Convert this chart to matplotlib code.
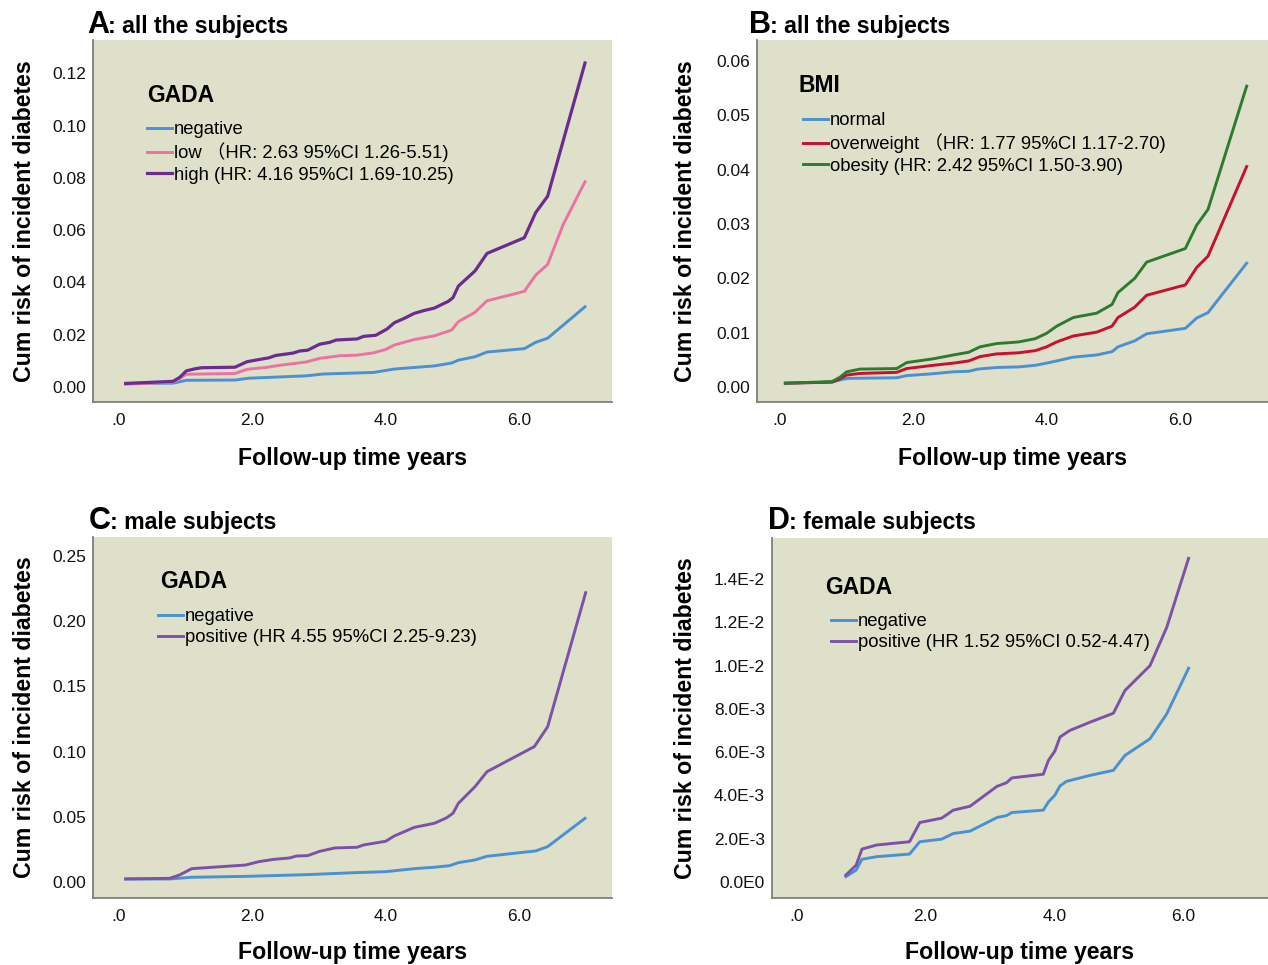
import matplotlib
matplotlib.use("Agg")
import matplotlib.pyplot as plt

plt.rcParams['font.family'] = ['Liberation Sans', 'Noto Sans CJK SC', 'DejaVu Sans']

# ---- data (follow-up years, cumulative risk) ----
# A: GADA, all subjects
a_neg_t = [0.10, 0.81, 1.01, 1.74, 1.95, 2.81, 3.06, 3.82, 4.13, 4.73, 4.99, 5.09, 5.34, 5.52, 6.08, 6.25, 6.43, 6.99]
a_neg_v = [0.0014, 0.0015, 0.0026, 0.0027, 0.0034, 0.0043, 0.0050, 0.0056, 0.0069, 0.0081, 0.0092, 0.0103, 0.0116, 0.0134, 0.0147, 0.0171, 0.0187, 0.0307]
a_low_t = [0.10, 0.81, 0.88, 1.01, 1.74, 1.92, 2.20, 2.40, 2.81, 3.01, 3.32, 3.57, 3.82, 4.00, 4.13, 4.43, 4.73, 4.99, 5.09, 5.34,
           5.52, 6.08, 6.25, 6.43, 6.66, 6.99]
a_low_v = [0.0011, 0.0019, 0.0029, 0.0049, 0.0052, 0.0068, 0.0075, 0.0083, 0.0096, 0.0110, 0.0120, 0.0122, 0.0131, 0.0144, 0.0161,
           0.0182, 0.0196, 0.0218, 0.0250, 0.0286, 0.0330, 0.0366, 0.0428, 0.0469, 0.0620, 0.0785]
a_high_t = [0.10, 0.81, 0.91, 1.01, 1.14, 1.24, 1.74, 1.92, 2.05, 2.25, 2.35, 2.61, 2.71, 2.83, 3.01, 3.16, 3.26, 3.57, 3.67, 3.85,
            4.02, 4.13, 4.28, 4.43, 4.58, 4.73, 4.94, 5.01, 5.09, 5.34, 5.52, 6.08, 6.25, 6.43, 6.99]
a_high_v = [0.0014, 0.0022, 0.0037, 0.0062, 0.0070, 0.0074, 0.0076, 0.0097, 0.0103, 0.0112, 0.0121, 0.0130, 0.0138, 0.0141, 0.0164,
            0.0171, 0.0180, 0.0184, 0.0194, 0.0198, 0.0222, 0.0246, 0.0263, 0.0282, 0.0293, 0.0302, 0.0328, 0.0342, 0.0386,
            0.0444, 0.0511, 0.0571, 0.0667, 0.0730, 0.1239]

# B: BMI, all subjects
b_norm_t = [0.08, 0.78, 0.93, 1.03, 1.75, 1.90, 2.25, 2.60, 2.83, 2.97, 3.25, 3.58, 3.83, 4.00, 4.15, 4.40, 4.75, 4.98, 5.07, 5.32,
            5.50, 6.08, 6.25, 6.42, 7.00]
b_norm_v = [0.0007, 0.0009, 0.0014, 0.0016, 0.0017, 0.0021, 0.0024, 0.0028, 0.0029, 0.0033, 0.0036, 0.0037, 0.0040, 0.0044, 0.0048,
            0.0055, 0.0059, 0.0065, 0.0074, 0.0085, 0.0098, 0.0108, 0.0127, 0.0137, 0.0228]
b_over_t = [0.08, 0.78, 0.88, 1.00, 1.20, 1.75, 1.90, 2.30, 2.60, 2.83, 3.00, 3.25, 3.58, 3.83, 4.00, 4.15, 4.40, 4.75, 4.98, 5.07,
            5.32, 5.50, 6.08, 6.25, 6.42, 7.00]
b_over_v = [0.0007, 0.0009, 0.0014, 0.0022, 0.0025, 0.0027, 0.0034, 0.0040, 0.0044, 0.0048, 0.0056, 0.0061, 0.0063, 0.0067, 0.0074,
            0.0083, 0.0094, 0.0101, 0.0112, 0.0128, 0.0147, 0.0169, 0.0188, 0.0220, 0.0241, 0.0406]
b_obes_t = [0.08, 0.78, 0.90, 1.00, 1.20, 1.75, 1.90, 2.30, 2.60, 2.83, 3.00, 3.25, 3.58, 3.83, 4.00, 4.15, 4.40, 4.75, 4.98, 5.07,
            5.32, 5.50, 6.08, 6.25, 6.42, 7.00]
b_obes_v = [0.0007, 0.0010, 0.0018, 0.0028, 0.0033, 0.0034, 0.0045, 0.0052, 0.0059, 0.0064, 0.0074, 0.0080, 0.0083, 0.0089, 0.0099,
            0.0112, 0.0128, 0.0136, 0.0152, 0.0174, 0.0200, 0.0230, 0.0255, 0.0298, 0.0327, 0.0554]

# C: GADA, male subjects
c_neg_t = [0.10, 0.76, 1.09, 1.90, 2.81, 3.57, 4.00, 4.43, 4.73, 4.96, 5.09, 5.34, 5.52, 6.25, 6.43, 6.99]
c_neg_v = [0.0023, 0.0023, 0.0036, 0.0043, 0.0056, 0.0072, 0.0079, 0.0102, 0.0113, 0.0125, 0.0148, 0.0169, 0.0197, 0.0238, 0.0271, 0.0488]
c_pos_t = [0.10, 0.76, 0.91, 1.09, 1.90, 2.10, 2.33, 2.56, 2.66, 2.83, 3.01, 3.24, 3.57, 3.67, 4.00, 4.13, 4.43, 4.73, 4.91, 5.01,
           5.09, 5.34, 5.52, 6.23, 6.43, 7.00]
c_pos_v = [0.0023, 0.0028, 0.0054, 0.0102, 0.0130, 0.0156, 0.0174, 0.0184, 0.0199, 0.0202, 0.0235, 0.0261, 0.0266, 0.0284, 0.0312,
           0.0353, 0.0419, 0.0450, 0.0491, 0.0527, 0.0603, 0.0731, 0.0846, 0.1038, 0.1191, 0.2219]

# D: GADA, female subjects
d_neg_t = [0.76, 0.92, 1.01, 1.24, 1.75, 1.91, 2.25, 2.43, 2.69, 3.11, 3.26, 3.34, 3.83, 3.91, 4.01, 4.09, 4.19, 4.56, 4.92, 5.10,
           5.49, 5.75, 6.09]
d_neg_v = [0.00025, 0.00055, 0.00105, 0.00117, 0.00129, 0.00186, 0.00198, 0.00224, 0.00235, 0.00298, 0.00307, 0.00321, 0.00332,
           0.00370, 0.00401, 0.00444, 0.00465, 0.00493, 0.00516, 0.00585, 0.00662, 0.00777, 0.00988]
d_pos_t = [0.76, 0.92, 1.01, 1.24, 1.75, 1.91, 2.25, 2.43, 2.69, 3.11, 3.26, 3.34, 3.83, 3.91, 4.01, 4.09, 4.24, 4.56, 4.92, 5.10,
           5.49, 5.75, 6.09]
d_pos_v = [0.00032, 0.00078, 0.00152, 0.00171, 0.00186, 0.00275, 0.00295, 0.00332, 0.00350, 0.00442, 0.00459, 0.00481, 0.00498,
           0.00562, 0.00605, 0.00670, 0.00700, 0.00739, 0.00780, 0.00885, 0.01000, 0.01177, 0.01496]

x_ticks = [0, 2, 4, 6]
x_ticklabels = ['.0', '2.0', '4.0', '6.0']
a_yticks = [0.00, 0.02, 0.04, 0.06, 0.08, 0.10, 0.12]
a_yticklabels = ['0.00', '0.02', '0.04', '0.06', '0.08', '0.10', '0.12']
b_yticks = [0.00, 0.01, 0.02, 0.03, 0.04, 0.05, 0.06]
b_yticklabels = ['0.00', '0.01', '0.02', '0.03', '0.04', '0.05', '0.06']
c_yticks = [0.00, 0.05, 0.10, 0.15, 0.20, 0.25]
c_yticklabels = ['0.00', '0.05', '0.10', '0.15', '0.20', '0.25']
d_yticks = [0.000, 0.002, 0.004, 0.006, 0.008, 0.010, 0.012, 0.014]
d_yticklabels = ['0.0E0', '2.0E-3', '4.0E-3', '6.0E-3', '8.0E-3', '1.0E-2', '1.2E-2', '1.4E-2']

BG = '#dfe0c9'
BLUE = '#4a90d2'
PINK = '#ec72a4'
DPURPLE = '#6b2c91'
PURPLE = '#7c52a8'
RED = '#c8102e'
GREEN = '#2e7b30'
SPINE = '#7f7f7f'

W, H = 1268, 965
fig = plt.figure(figsize=(W / 100, H / 100), dpi=100)
fig.patch.set_facecolor('white')


def add_panel(l, t, r, b):
    ax = fig.add_axes([l / W, 1 - b / H, (r - l) / W, (b - t) / H])
    ax._px = (l, t, r, b)
    return ax


def to_axes(ax, x, y):
    l, t, r, b = ax._px
    return (x - l) / (r - l), 1 - (y - t) / (b - t)


def style_panel(ax, xlim, ylim, yticks, yticklabels, ylab_x, xlab_y):
    ax.set_facecolor(BG)
    ax.set_xlim(*xlim)
    ax.set_ylim(*ylim)
    ax.set_xticks(x_ticks)
    ax.set_xticklabels(x_ticklabels)
    ax.set_yticks(yticks)
    ax.set_yticklabels(yticklabels)
    ax.tick_params(length=0, labelsize=12.5, colors='#111111')
    ax.tick_params(axis='x', pad=8)
    ax.tick_params(axis='y', pad=5)
    for s in ['top', 'right']:
        ax.spines[s].set_visible(False)
    for s in ['left', 'bottom']:
        ax.spines[s].set_color(SPINE)
        ax.spines[s].set_linewidth(1.3)
    ax.set_xlabel('Follow-up time years', fontsize=16.7, fontweight='bold', va='center')
    ax.xaxis.set_label_coords(*to_axes(ax, (ax._px[0] + ax._px[2]) / 2, xlab_y))
    ax.set_ylabel('Cum risk of incident diabetes', fontsize=16.7, fontweight='bold', va='center')
    ax.yaxis.set_label_coords(to_axes(ax, ylab_x, 0)[0], 0.5)


def add_legend(ax, title, title_xy, handle_xy):
    ax.text(*to_axes(ax, *title_xy), title, transform=ax.transAxes, fontsize=16.5,
            fontweight='bold', ha='left', va='center')
    ax.legend(loc='upper left', bbox_to_anchor=to_axes(ax, *handle_xy), frameon=False,
              borderpad=0, borderaxespad=0, handlelength=1.35, handletextpad=0.12,
              labelspacing=0.24, fontsize=13.3)


def panel_title(x, y, letter, rest):
    fig.text(x / W, 1 - y / H, letter, fontsize=22, fontweight='bold', va='baseline')
    fig.text((x + 21) / W, 1 - y / H, rest, fontsize=16.7, fontweight='bold', va='baseline')


# A
axA = add_panel(93, 40, 612, 402)
axA.plot(a_neg_t, a_neg_v, color=BLUE, lw=2.1, label='negative')
axA.plot(a_low_t, a_low_v, color=PINK, lw=2.1, label='low （HR: 2.63 95%CI 1.26-5.51)')
axA.plot(a_high_t, a_high_v, color=DPURPLE, lw=2.3, label='high (HR: 4.16 95%CI 1.69-10.25)')
style_panel(axA, (-0.39, 7.395), (-0.0057, 0.1327), a_yticks, a_yticklabels, 25, 458)
add_legend(axA, 'GADA', (147, 95), (147, 121))
panel_title(87, 33, 'A', ': all the subjects')

# B
axB = add_panel(757, 40, 1268, 402)
axB.plot(b_norm_t, b_norm_v, color=BLUE, lw=2.1, label='normal')
axB.plot(b_over_t, b_over_v, color=RED, lw=2.1, label='overweight （HR: 1.77 95%CI 1.17-2.70)')
axB.plot(b_obes_t, b_obes_v, color=GREEN, lw=2.1, label='obesity (HR: 2.42 95%CI 1.50-3.90)')
style_panel(axB, (-0.345, 7.32), (-0.00276, 0.0639), b_yticks, b_yticklabels, 686, 458)
add_legend(axB, 'BMI', (799, 86), (803, 112))
panel_title(749, 33, 'B', ': all the subjects')

# C
axC = add_panel(93, 537, 612, 898)
axC.plot(c_neg_t, c_neg_v, color=BLUE, lw=2.1, label='negative')
axC.plot(c_pos_t, c_pos_v, color=PURPLE, lw=2.1, label='positive (HR 4.55 95%CI 2.25-9.23)')
style_panel(axC, (-0.39, 7.395), (-0.0123, 0.2646), c_yticks, c_yticklabels, 25, 952)
add_legend(axC, 'GADA', (160, 582), (158, 608))
panel_title(89, 529, 'C', ': male subjects')

# D
axD = add_panel(772, 538, 1268, 898)
axD.plot(d_neg_t, d_neg_v, color=BLUE, lw=2.1, label='negative')
axD.plot(d_pos_t, d_pos_v, color=PURPLE, lw=2.1, label='positive (HR 1.52 95%CI 0.52-4.47)')
style_panel(axD, (-0.389, 7.325), (-0.00074, 0.0159), d_yticks, d_yticklabels, 686, 952)
add_legend(axD, 'GADA', (825, 587), (831, 613))
panel_title(768, 529, 'D', ': female subjects')

fig.savefig('out.png', dpi=100, facecolor='white')
